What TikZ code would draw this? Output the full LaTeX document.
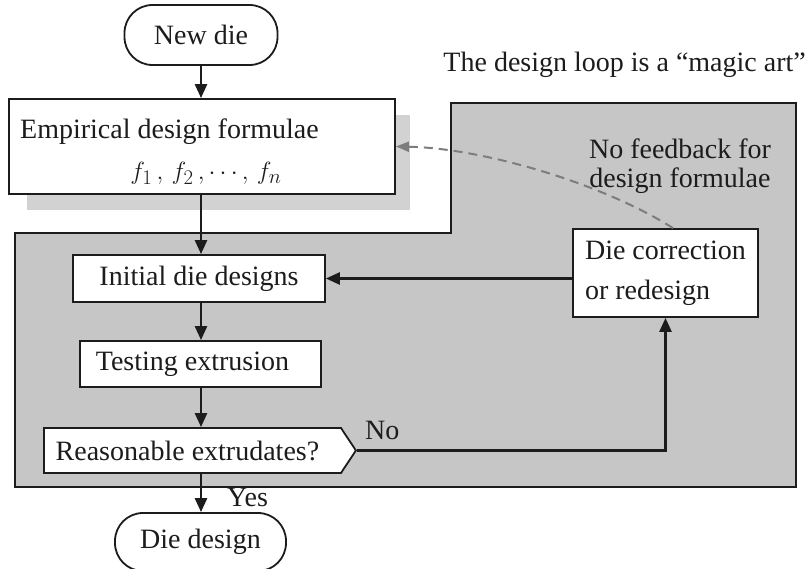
\documentclass[tikz,border=0pt]{standalone}
\usepackage{fontspec}
\setmainfont{Liberation Serif}
\usetikzlibrary{arrows.meta,shapes.symbols,calc}
\definecolor{loopgray}{RGB}{198,198,198}
\definecolor{shadegray}{RGB}{210,210,210}
\definecolor{inkdark}{RGB}{28,28,28}
\definecolor{dashgray}{RGB}{125,125,125}
\begin{document}
\begin{tikzpicture}[x=1pt,y=-1pt,
  font=\fontsize{28}{34}\selectfont,
  box/.style={draw=inkdark, line width=1.8pt, fill=white, inner sep=0pt, text=inkdark},
  term/.style={box, rounded corners=28pt},
  txt/.style={inner sep=0pt, text=inkdark},
  flow/.style={draw=inkdark, line width=2.6pt, -{Triangle[length=14pt,width=12pt]}},
  fbline/.style={draw=dashgray, line width=2pt, dash pattern=on 9pt off 6pt,
                 -{Triangle[length=13pt,width=10pt]}}]
\useasboundingbox (0,0) rectangle (807,569);

% shaded region of the design loop
\filldraw[fill=loopgray, draw=inkdark, line width=1.4pt]
  (451,103) -- (796,103) -- (796,487) -- (15,487) -- (15,233) -- (451,233) -- cycle;

% drop shadow of the formulae box
\fill[shadegray] (27,115) rectangle (410,210);

% nodes
\node[term, minimum width=153pt, minimum height=60pt] (newdie) at (201,35) {New die};
\node[box, minimum width=386pt, minimum height=95pt] (emp) at (202,146.5) {};
\node[txt, anchor=base west] (emptitle) at (20,139) {Empirical design formulae};
\node[txt, anchor=base, font=\fontsize{31}{34}\selectfont] (empf) at (206,180)
  {$f_1\,,\,f_2\,,\cdots,\,f_n$};
\node[box, minimum width=252pt, minimum height=47pt] (init) at (199,278.5) {Initial die designs};
\node[box, minimum width=241pt, minimum height=46pt] (test) at (200.5,364) {\hspace*{-16pt}Testing extrusion};
\node[box, signal, signal to=east, signal pointer angle=113,
      minimum width=312pt, minimum height=45pt, anchor=west] (reas) at (43,450.5)
      {\hspace*{-10pt}Reasonable extrudates?};
\node[term, minimum width=171pt, minimum height=58pt] (dd) at (200.5,542) {Die design};
\node[box, minimum width=185pt, minimum height=88pt, align=left,
      font=\fontsize{28}{40}\selectfont] (dc) at (665.5,273) {Die correction\\or redesign};

% labels
\node[txt, anchor=base east] (title) at (806,72) {The design loop is a ``magic art''};
\node[txt, align=center, font=\fontsize{28}{29}\selectfont] (nofb) at (680,166)
  {No feedback for\\design formulae};
\node[txt, anchor=base west] (yes) at (227,507) {Yes};
\node[txt, anchor=base west] (no) at (365,440) {No};

% connectors
\draw[flow] (newdie.south) -- (newdie.south |- emp.north);
\draw[flow] (emp.south -| newdie) -- (init.north -| newdie);
\draw[flow] (init.south -| newdie) -- (test.north -| newdie);
\draw[flow] (test.south -| newdie) -- (reas.north -| newdie);
\draw[flow] (reas.south -| newdie) -- (dd.north -| newdie);
\draw[flow] (dc.west |- init.east) -- (init.east);
\draw[flow] (reas.east) -| (dc.south);
\draw[fbline] ($(dc.north west)!0.54!(dc.north east)$)
  .. controls (600,182) and (480,148) .. (emp.east);
\end{tikzpicture}
\end{document}
